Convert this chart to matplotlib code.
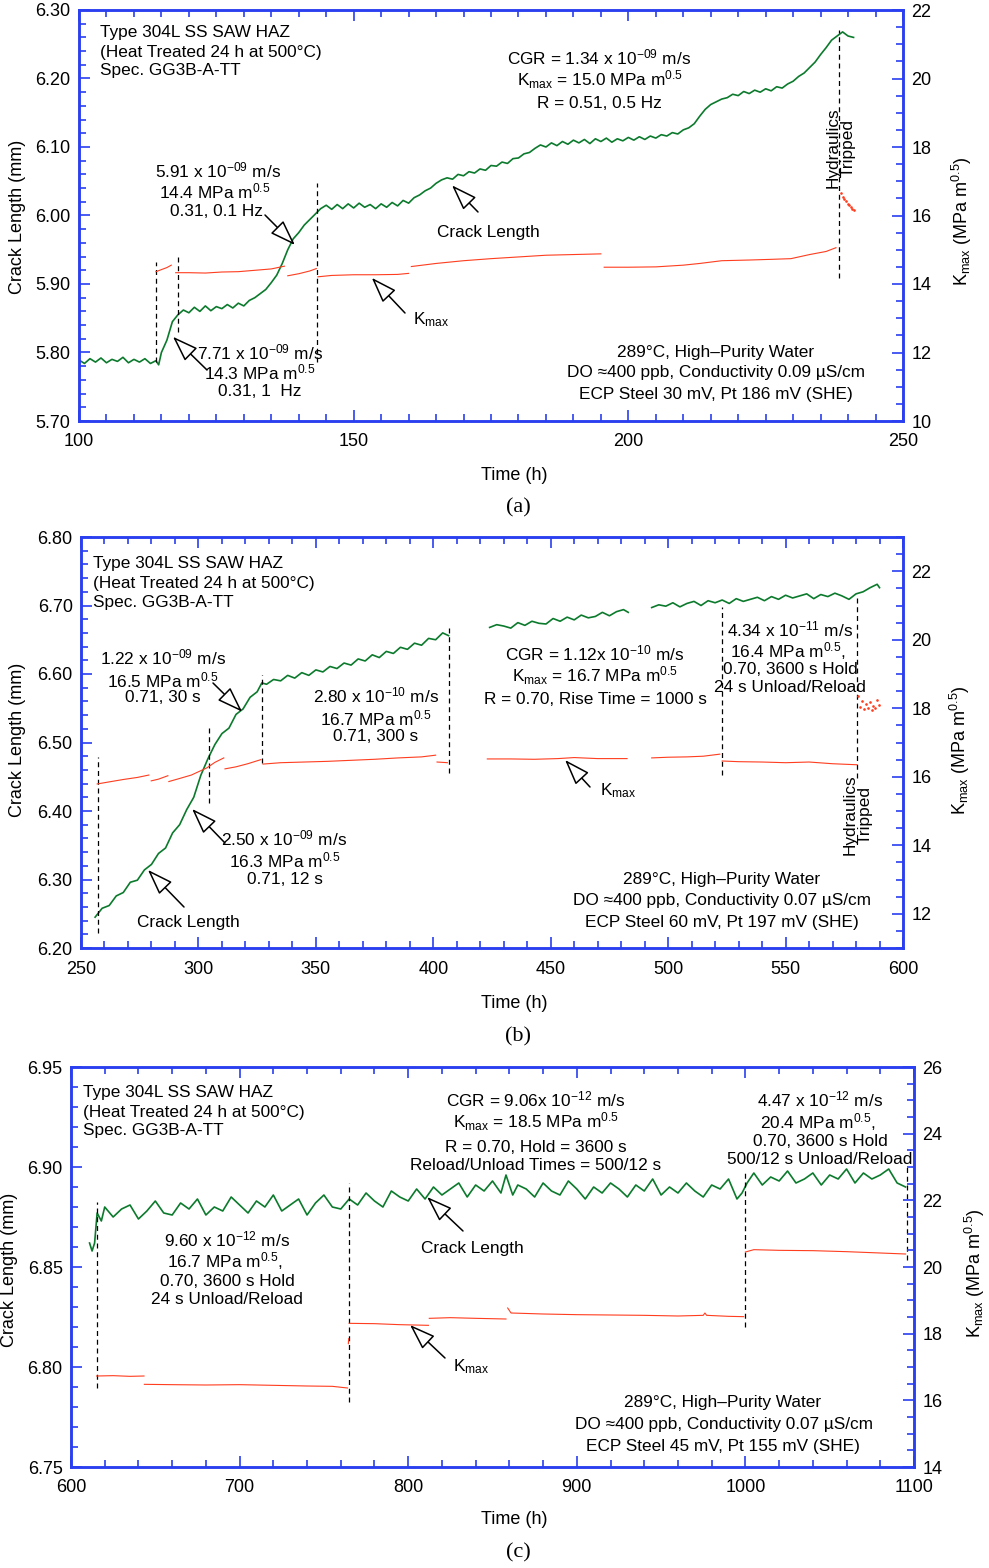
import matplotlib
matplotlib.use('Agg')
import matplotlib.pyplot as plt
from matplotlib.ticker import MultipleLocator, FormatStrFormatter

plt.rcParams['font.family'] = ['Liberation Sans', 'DejaVu Sans']
plt.rcParams['mathtext.fontset'] = 'custom'
plt.rcParams['mathtext.rm'] = 'Liberation Sans'
plt.rcParams['mathtext.it'] = 'Liberation Sans:italic'
plt.rcParams['mathtext.default'] = 'regular'

W, H = 989, 1568
BLUE = '#2a3ff0'
GREEN = '#0b7a2c'
RED = '#ff3d1f'
FS = 12.4

# ---------------- panel (a) data ----------------
a_time = [100, 101, 102, 103, 104, 105, 106, 107, 108, 109, 110, 111, 112, 113, 114, 114.5,
          115, 116, 117, 118, 119, 120, 121, 122, 123, 124, 125, 126, 127, 128, 129, 130,
          131, 132, 133, 134, 135, 136, 137, 138, 139, 140, 141, 142, 143, 144, 145, 146,
          147, 148, 149, 150, 151, 152, 153, 154, 155, 156, 157, 158, 159, 160, 161, 162,
          163, 164, 165, 166, 167, 168, 169, 170, 171, 172, 173, 174, 175, 176, 177, 178,
          179, 180, 181, 182, 183, 184, 185, 186, 187, 188, 189, 190, 191, 192, 193, 194,
          195, 196, 197, 198, 199, 200, 201, 202, 203, 204, 205, 206, 207, 208, 209, 210,
          211, 212, 213, 214, 215, 216, 217, 218, 219, 220, 221, 222, 223, 224, 225, 226,
          227, 228, 229, 230, 231, 232, 233, 234, 235, 236, 237, 238, 239, 240, 241]
a_crack = [5.789, 5.784, 5.791, 5.786, 5.792, 5.785, 5.790, 5.787, 5.793, 5.785, 5.790, 5.786,
           5.791, 5.784, 5.788, 5.782, 5.800, 5.818, 5.845, 5.855, 5.862, 5.858, 5.866, 5.860,
           5.868, 5.861, 5.867, 5.864, 5.870, 5.865, 5.872, 5.868, 5.876, 5.880, 5.886, 5.892,
           5.902, 5.913, 5.930, 5.950, 5.966, 5.975, 5.986, 5.994, 6.002, 6.010, 6.015, 6.009,
           6.016, 6.010, 6.017, 6.011, 6.018, 6.012, 6.016, 6.010, 6.017, 6.012, 6.019, 6.014,
           6.022, 6.018, 6.026, 6.030, 6.036, 6.040, 6.047, 6.052, 6.055, 6.053, 6.060, 6.058,
           6.064, 6.062, 6.068, 6.066, 6.073, 6.072, 6.078, 6.076, 6.083, 6.084, 6.090, 6.092,
           6.098, 6.103, 6.100, 6.106, 6.102, 6.108, 6.104, 6.110, 6.106, 6.111, 6.105, 6.112,
           6.108, 6.113, 6.107, 6.112, 6.109, 6.114, 6.110, 6.115, 6.111, 6.116, 6.113, 6.118,
           6.116, 6.121, 6.119, 6.125, 6.128, 6.134, 6.145, 6.155, 6.162, 6.166, 6.170, 6.172,
           6.177, 6.175, 6.181, 6.178, 6.183, 6.180, 6.185, 6.182, 6.188, 6.186, 6.192, 6.196,
           6.203, 6.208, 6.216, 6.224, 6.235, 6.245, 6.256, 6.262, 6.268, 6.262, 6.260]
a_kmax_time = [[114.0, 115.0, 116.0, 116.8],
               [117.6, 120, 123, 126, 129, 132, 135, 137.4],
               [138.0, 140, 142, 143.2],
               [143.5, 146, 150, 154, 158, 160],
               [160.5, 165, 170, 175, 180, 185, 190, 195],
               [195.6, 200, 205, 210, 213, 217, 222, 226, 229.6, 233, 236, 237.8]]
a_kmax = [[14.36, 14.42, 14.48, 14.55],
          [14.33, 14.33, 14.32, 14.35, 14.36, 14.40, 14.44, 14.52],
          [14.24, 14.30, 14.38, 14.45],
          [14.21, 14.25, 14.27, 14.27, 14.28, 14.31],
          [14.51, 14.60, 14.68, 14.74, 14.79, 14.84, 14.86, 14.88],
          [14.49, 14.49, 14.50, 14.55, 14.60, 14.68, 14.70, 14.72, 14.74, 14.86, 14.95, 15.06]]
a_trip_time = [238.7, 239.0, 239.3, 239.6, 239.9, 240.2, 240.5, 240.8, 241.0]
a_trip_kmax = [16.67, 16.55, 16.48, 16.42, 16.35, 16.31, 16.26, 16.20, 16.17]
a_dash_time = [114.0, 118.0, 143.3, 238.3]
a_dash_lo = [5.786, 5.830, 5.786, 5.909]
a_dash_hi = [5.932, 5.939, 6.047, 6.271]

# ---------------- panel (b) data ----------------
b_time = [[256, 259, 262, 265, 268, 271, 274, 277, 280, 283, 286, 289, 292, 295, 298, 301,
           304, 307, 310, 313, 316, 319, 322, 325, 327, 329, 332, 335, 338, 341, 344, 347,
           350, 353, 356, 359, 362, 365, 368, 371, 374, 377, 380, 383, 386, 389, 392, 395,
           398, 401, 404, 406.5],
          [424, 427, 430, 433, 436, 439, 442, 445, 448, 451, 454, 457, 460, 463, 466, 469,
           472, 475, 478, 481, 483],
          [493, 496, 499, 502, 505, 508, 511, 514, 517, 520, 523, 526, 529, 532, 535, 538,
           541, 544, 547, 550, 553, 556, 559, 562, 565, 568, 571, 574, 577, 580, 583, 586,
           589, 590]]
b_crack = [[6.245, 6.258, 6.262, 6.276, 6.281, 6.296, 6.299, 6.314, 6.322, 6.338, 6.346, 6.368,
            6.380, 6.402, 6.420, 6.452, 6.476, 6.497, 6.513, 6.521, 6.541, 6.549, 6.566, 6.574,
            6.587, 6.585, 6.592, 6.590, 6.598, 6.594, 6.602, 6.598, 6.606, 6.603, 6.611, 6.608,
            6.616, 6.613, 6.622, 6.619, 6.628, 6.624, 6.633, 6.630, 6.639, 6.636, 6.645, 6.642,
            6.652, 6.650, 6.660, 6.656],
           [6.668, 6.672, 6.670, 6.667, 6.675, 6.671, 6.677, 6.674, 6.673, 6.681, 6.677, 6.683,
            6.679, 6.686, 6.682, 6.684, 6.690, 6.685, 6.691, 6.694, 6.690],
           [6.697, 6.701, 6.699, 6.704, 6.698, 6.703, 6.706, 6.700, 6.707, 6.704, 6.708, 6.703,
            6.710, 6.706, 6.709, 6.712, 6.707, 6.713, 6.709, 6.715, 6.711, 6.714, 6.717, 6.710,
            6.716, 6.713, 6.718, 6.714, 6.709, 6.717, 6.720, 6.726, 6.731, 6.726]]
b_kmax_time = [[256.9, 262, 268, 274, 278.9],
               [279.9, 283, 287],
               [287.4, 292, 297, 303.6, 307, 310.8],
               [311.3, 316, 321, 326.6],
               [327.5, 335, 345, 355, 365, 375, 385, 395, 401],
               [401.6, 404, 406],
               [423, 433, 443, 453, 460, 470, 482.5],
               [493, 500, 508, 515, 522],
               [523, 530, 540, 550, 560, 570, 580.4]]
b_kmax = [[15.79, 15.85, 15.92, 15.98, 16.05],
          [15.88, 15.93, 16.03],
          [15.86, 15.95, 16.05, 16.26, 16.42, 16.55],
          [16.23, 16.29, 16.38, 16.50],
          [16.37, 16.41, 16.43, 16.45, 16.48, 16.51, 16.55, 16.58, 16.63],
          [16.43, 16.42, 16.41],
          [16.52, 16.52, 16.51, 16.53, 16.56, 16.53, 16.53],
          [16.55, 16.57, 16.58, 16.60, 16.66],
          [16.46, 16.44, 16.43, 16.41, 16.43, 16.38, 16.35]]
b_trip_time = [581.0, 581.8, 582.6, 583.4, 584.2, 585.0, 585.8, 586.6, 587.4, 588.2, 589.0, 589.8]
b_trip_kmax = [18.35, 18.05, 18.20, 17.98, 18.12, 18.00, 18.18, 17.95, 18.08, 18.02, 18.25, 18.10]
b_dash_time = [257.4, 304.5, 327.2, 406.7, 522.8, 580.6]
b_dash_lo = [6.222, 6.412, 6.470, 6.455, 6.453, 6.448]
b_dash_hi = [6.479, 6.521, 6.599, 6.672, 6.698, 6.712]

# ---------------- panel (c) data ----------------
c_time = [611, 612.5, 614, 615.5, 618, 620, 625, 630, 635, 640, 645, 650, 655, 660, 665, 670,
          675, 680, 685, 690, 695, 700, 705, 710, 715, 720, 725, 730, 735, 740, 745, 750, 755,
          760, 765, 770, 775, 780, 785, 790, 795, 800, 805, 810, 815, 820, 825, 830, 835, 840,
          845, 850, 855, 858, 862, 865, 870, 875, 880, 885, 890, 895, 900, 905, 910, 915, 920,
          925, 930, 935, 940, 945, 950, 955, 960, 965, 970, 975, 980, 985, 990, 995, 998, 1001,
          1005, 1010, 1015, 1020, 1025, 1030, 1035, 1040, 1045, 1050, 1055, 1060, 1065, 1070,
          1075, 1080, 1085, 1090, 1095]
c_crack = [6.862, 6.858, 6.862, 6.877, 6.873, 6.880, 6.875, 6.879, 6.881, 6.874, 6.878, 6.883,
           6.877, 6.876, 6.882, 6.879, 6.884, 6.876, 6.880, 6.878, 6.885, 6.881, 6.877, 6.883,
           6.880, 6.886, 6.878, 6.881, 6.884, 6.876, 6.882, 6.886, 6.880, 6.879, 6.884, 6.881,
           6.887, 6.883, 6.880, 6.888, 6.885, 6.883, 6.889, 6.884, 6.890, 6.886, 6.889, 6.892,
           6.885, 6.891, 6.888, 6.893, 6.887, 6.896, 6.886, 6.891, 6.889, 6.885, 6.892, 6.888,
           6.886, 6.893, 6.889, 6.884, 6.890, 6.887, 6.892, 6.889, 6.885, 6.891, 6.888, 6.894,
           6.886, 6.890, 6.887, 6.892, 6.888, 6.885, 6.891, 6.889, 6.894, 6.884, 6.887, 6.892,
           6.897, 6.891, 6.895, 6.893, 6.898, 6.892, 6.894, 6.897, 6.891, 6.896, 6.894, 6.899,
           6.892, 6.897, 6.894, 6.896, 6.899, 6.892, 6.890]
c_kmax_time = [[615.2, 625, 635, 643.3],
               [643.5, 660, 680, 700, 720, 740, 755, 764],
               [764.5, 764.7],
               [765, 780, 795, 812],
               [812.5, 825, 840, 858],
               [859, 861, 880, 900, 920, 940, 960, 975, 976, 977, 990, 999],
               [1000, 1005, 1020, 1040, 1060, 1080, 1095]]
c_kmax = [[16.73, 16.74, 16.72, 16.73],
          [16.48, 16.47, 16.46, 16.47, 16.45, 16.43, 16.42, 16.37],
          [17.70, 17.85],
          [18.31, 18.30, 18.27, 18.25],
          [18.46, 18.48, 18.46, 18.44],
          [18.77, 18.62, 18.59, 18.57, 18.56, 18.55, 18.53, 18.55, 18.62, 18.55, 18.52, 18.51],
          [20.45, 20.52, 20.50, 20.49, 20.46, 20.42, 20.39]]
c_dash_time = [615.2, 765.0, 999.8, 1095.6]
c_dash_lo = [6.7895, 6.7825, 6.820, 6.8535]
c_dash_hi = [6.8825, 6.892, 6.8985, 6.900]

fig = plt.figure(figsize=(W / 100, H / 100), dpi=100)


def rect(l, t, r, b):
    return [l / W, 1 - b / H, (r - l) / W, (b - t) / H]


def fxy(x, y):
    return (x / W, 1 - y / H)


def ftext(x, y, s, **kw):
    opts = dict(ha='center', va='center', size=FS)
    opts.update(kw)
    fig.text(x / W, 1 - y / H, s, **opts)


def arrow(ax, head, tail):
    ax.annotate('', xy=head, xycoords='data', xytext=fxy(*tail), textcoords='figure fraction',
                arrowprops=dict(arrowstyle='-|>,head_length=0.8,head_width=0.28', fc='white',
                                ec='black', lw=1.1, mutation_scale=20, shrinkA=0, shrinkB=0))


def setup(r, xlim, xmaj, xmin, ylim, ymaj, ymin, klim, kmaj, kmin):
    ax = fig.add_axes(r)
    ax2 = ax.twinx()
    ax.set_xlim(*xlim)
    ax.set_ylim(*ylim)
    ax2.set_ylim(*klim)
    ax.xaxis.set_major_locator(MultipleLocator(xmaj))
    ax.xaxis.set_minor_locator(MultipleLocator(xmin))
    ax.yaxis.set_major_locator(MultipleLocator(ymaj))
    ax.yaxis.set_minor_locator(MultipleLocator(ymin))
    ax2.yaxis.set_major_locator(MultipleLocator(kmaj))
    ax2.yaxis.set_minor_locator(MultipleLocator(kmin))
    ax.yaxis.set_major_formatter(FormatStrFormatter('%.2f'))
    for a in (ax, ax2):
        for sp in a.spines.values():
            sp.set_color(BLUE)
            sp.set_linewidth(1.8)
    ax.tick_params(which='both', direction='in', color=BLUE, top=True, right=False,
                   labelsize=13, width=1.2)
    ax.tick_params(which='major', length=8)
    ax.tick_params(which='minor', length=5)
    ax.tick_params(axis='x', pad=9)
    ax.tick_params(axis='y', pad=6)
    ax2.tick_params(which='both', direction='in', color=BLUE, labelsize=13, width=1.2, pad=6)
    ax2.tick_params(which='major', length=8)
    ax2.tick_params(which='minor', length=5)
    return ax, ax2


def draw_kmax(ax2, times, vals):
    for t, k in zip(times, vals):
        ax2.plot(t, k, color=RED, lw=0.8)


KMAX = 'K$_{\\mathrm{max}}$'
KLABEL = 'K$_{\\mathrm{max}}$ (MPa m$^{0.5}$)'

# ================= (a) =================
ax, ax2 = setup(rect(79, 10, 903, 421), (100, 250), 50, 5, (5.70, 6.30), 0.1, 0.02,
                (10, 22), 2, 0.5)
ax.plot(a_time, a_crack, color=GREEN, lw=1.2)
draw_kmax(ax2, a_kmax_time, a_kmax)
ax2.plot(a_trip_time, a_trip_kmax, ls='none', marker='.', ms=1.8, color=RED)
ax.vlines(a_dash_time, a_dash_lo, a_dash_hi, colors='k', linestyles=(0, (4, 3)), lw=0.9)

ftext(100, 32, 'Type 304L SS SAW HAZ', ha='left')
ftext(100, 52, '(Heat Treated 24 h at 500°C)', ha='left')
ftext(100, 71, 'Spec. GG3B-A-TT', ha='left')
ftext(218, 170, '5.91 x 10$^{\u221209}$ m/s')
ftext(215, 191, '14.4 MPa m$^{0.5}$')
ftext(217, 211, '0.31, 0.1 Hz')
ftext(260, 352, '7.71 x 10$^{\u221209}$ m/s')
ftext(260, 372, '14.3 MPa m$^{0.5}$')
ftext(260, 392, '0.31, 1  Hz')
ftext(599, 57, 'CGR = 1.34 x 10$^{\u221209}$ m/s')
ftext(600, 80, KMAX + ' = 15.0 MPa m$^{0.5}$')
ftext(599, 104, 'R = 0.51, 0.5 Hz')
ftext(488, 232, 'Crack Length')
ftext(431, 320, KMAX)
ftext(841, 148, 'Hydraulics\nTripped', rotation=90, linespacing=1.0, multialignment='center')
ftext(716, 352, '289°C, High\u2013Purity Water')
ftext(716, 373, 'DO \u2248400 ppb, Conductivity 0.09 \u00b5S/cm')
ftext(716, 395, 'ECP Steel 30 mV, Pt 186 mV (SHE)')
arrow(ax, (139.3, 5.957), (265, 215))
arrow(ax, (117.1, 5.823), (207, 370))
arrow(ax, (167.9, 6.044), (478, 212))
arrow(ax2, (153.3, 14.18), (405, 313))
ftext(18, 217, 'Crack Length (mm)', rotation=90, size=13)
ftext(962, 221, KLABEL, rotation=90, size=13)
ftext(514, 475, 'Time (h)', size=13)
ftext(518, 508, '(a)', family='Liberation Serif', size=16)

# ================= (b) =================
ax, ax2 = setup(rect(81, 537, 903, 948), (250, 600), 50, 10, (6.20, 6.80), 0.1, 0.02,
                (11, 23), 2, 0.5)
for t, c in zip(b_time, b_crack):
    ax.plot(t, c, color=GREEN, lw=1.2)
draw_kmax(ax2, b_kmax_time, b_kmax)
ax2.plot(b_trip_time, b_trip_kmax, ls='none', marker='.', ms=1.8, color=RED)
ax.vlines(b_dash_time, b_dash_lo, b_dash_hi, colors='k', linestyles=(0, (4, 3)), lw=0.9)

ftext(93, 563, 'Type 304L SS SAW HAZ', ha='left')
ftext(93, 583, '(Heat Treated 24 h at 500°C)', ha='left')
ftext(93, 602, 'Spec. GG3B-A-TT', ha='left')
ftext(163, 657, '1.22 x 10$^{\u221209}$ m/s')
ftext(163, 680, '16.5 MPa m$^{0.5}$')
ftext(163, 698, '0.71, 30 s')
ftext(376, 695, '2.80 x 10$^{\u221210}$ m/s')
ftext(376, 718, '16.7 MPa m$^{0.5}$')
ftext(376, 736, '0.71, 300 s')
ftext(284, 838, '2.50 x 10$^{\u221209}$ m/s')
ftext(285, 860, '16.3 MPa m$^{0.5}$')
ftext(285, 879, '0.71, 12 s')
ftext(188, 922, 'Crack Length')
ftext(595, 653, 'CGR = 1.12x 10$^{\u221210}$ m/s')
ftext(595, 676, KMAX + ' = 16.7 MPa m$^{0.5}$')
ftext(595, 700, 'R = 0.70, Rise Time = 1000 s')
ftext(790, 629, '4.34 x 10$^{\u221211}$ m/s')
ftext(788, 651, '16.4 MPa m$^{0.5}$,')
ftext(790, 670, '0.70, 3600 s Hold')
ftext(790, 687, '24 s Unload/Reload')
ftext(618, 791, KMAX)
ftext(858, 815, 'Hydraulics\nTripped', rotation=90, linespacing=1.0, multialignment='center')
ftext(722, 880, '289°C, High\u2013Purity Water')
ftext(722, 901, 'DO \u2248400 ppb, Conductivity 0.07 \u00b5S/cm')
ftext(722, 922, 'ECP Steel 60 mV, Pt 197 mV (SHE)')
arrow(ax, (318.6, 6.545), (213, 683))
arrow(ax, (297.3, 6.403), (225, 843))
arrow(ax, (278.5, 6.314), (184, 907))
arrow(ax2, (456.1, 16.49), (590, 787))
ftext(18, 740, 'Crack Length (mm)', rotation=90, size=13)
ftext(960, 750, KLABEL, rotation=90, size=13)
ftext(514, 1004, 'Time (h)', size=13)
ftext(518, 1037, '(b)', family='Liberation Serif', size=16)

# ================= (c) =================
ax, ax2 = setup(rect(71, 1067, 914, 1467), (600, 1100), 100, 20, (6.75, 6.95), 0.05, 0.01,
                (14, 26), 2, 0.5)
ax.plot(c_time, c_crack, color=GREEN, lw=1.2)
draw_kmax(ax2, c_kmax_time, c_kmax)
ax.vlines(c_dash_time, c_dash_lo, c_dash_hi, colors='k', linestyles=(0, (4, 3)), lw=0.9)

ftext(83, 1092, 'Type 304L SS SAW HAZ', ha='left')
ftext(83, 1112, '(Heat Treated 24 h at 500°C)', ha='left')
ftext(83, 1131, 'Spec. GG3B-A-TT', ha='left')
ftext(536, 1099, 'CGR = 9.06x 10$^{\u221212}$ m/s')
ftext(536, 1122, KMAX + ' = 18.5 MPa m$^{0.5}$')
ftext(536, 1148, 'R = 0.70, Hold = 3600 s')
ftext(536, 1166, 'Reload/Unload Times = 500/12 s')
ftext(820, 1099, '4.47 x 10$^{\u221212}$ m/s')
ftext(818, 1122, '20.4 MPa m$^{0.5}$,')
ftext(820, 1142, '0.70, 3600 s Hold')
ftext(820, 1159, '500/12 s Unload/Reload')
ftext(227, 1239, '9.60 x 10$^{\u221212}$ m/s')
ftext(225, 1261, '16.7 MPa m$^{0.5}$,')
ftext(227, 1281, '0.70, 3600 s Hold')
ftext(227, 1299, '24 s Unload/Reload')
ftext(472, 1249, 'Crack Length')
ftext(471, 1367, KMAX)
ftext(723, 1403, '289°C, High\u2013Purity Water')
ftext(724, 1424, 'DO \u2248400 ppb, Conductivity 0.07 \u00b5S/cm')
ftext(723, 1446, 'ECP Steel 45 mV, Pt 155 mV (SHE)')
arrow(ax, (811.2, 6.885), (463, 1231))
arrow(ax2, (801.1, 18.26), (445, 1358))
ftext(10, 1270, 'Crack Length (mm)', rotation=90, size=13)
ftext(975, 1273, KLABEL, rotation=90, size=13)
ftext(514, 1519, 'Time (h)', size=13)
ftext(518, 1553, '(c)', family='Liberation Serif', size=16)

fig.savefig('out.png', dpi=100)
